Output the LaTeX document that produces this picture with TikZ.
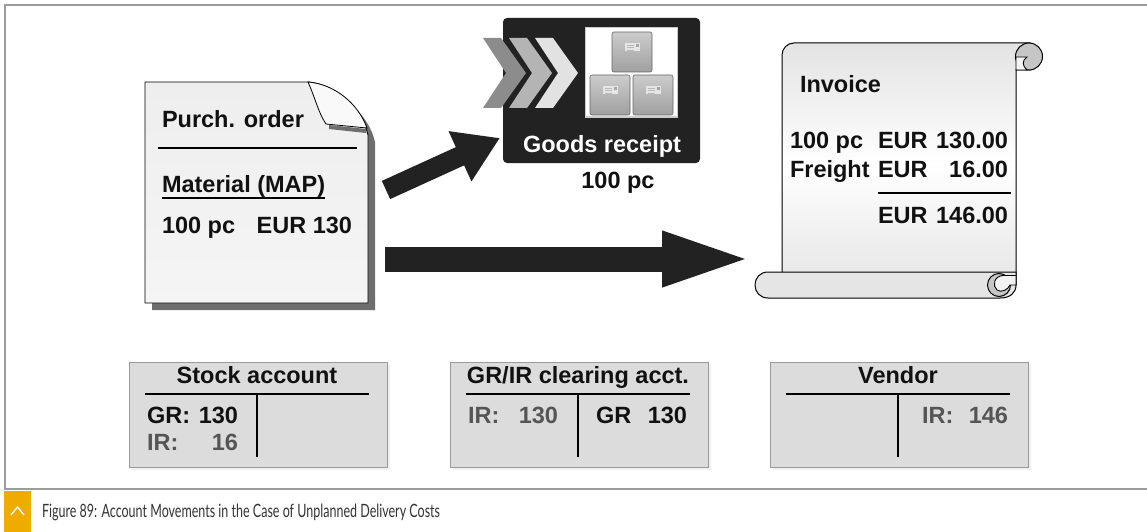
\documentclass[tikz,border=0pt]{standalone}
\usepackage{fontspec}
\setmainfont{Liberation Sans}
\newfontfamily\capfont{Lato}
\usetikzlibrary{arrows.meta,calc}
\definecolor{framegray}{HTML}{9C9C9C}
\definecolor{paper}{HTML}{EEEEEE}
\definecolor{shadowgray}{HTML}{6E6E6E}
\definecolor{inkblack}{HTML}{111111}
\definecolor{arrowblack}{HTML}{222222}
\definecolor{dimtext}{HTML}{555555}
\definecolor{acctfill}{HTML}{DCDCDC}
\definecolor{acctedge}{HTML}{9A9A9A}
\definecolor{captext}{HTML}{333333}
\definecolor{sapgold}{HTML}{F0AB00}
\definecolor{chevA}{HTML}{8C8C8C}
\definecolor{chevB}{HTML}{B4B4B4}
\definecolor{chevC}{HTML}{E2E2E2}
\begin{document}
\begin{tikzpicture}[x=1pt,y=-1pt,
  every node/.style={inner sep=0pt,outer sep=0pt},
  lbl/.style={font=\fontsize{23.5}{27}\selectfont\bfseries,text=inkblack,anchor=base west},
  lblr/.style={lbl,anchor=base east},
  lblc/.style={lbl,anchor=base},
  dim/.style={text=dimtext},
  fatarrow/.style={draw=arrowblack},
  rule/.style={draw=black,line width=2.6pt},
  acct/.style={fill=acctfill,draw=acctedge,line width=0.8pt},
  crate/.style={rounded corners=2pt,top color=gray!40,bottom color=gray!75,draw=gray!80!black,line width=0.6pt},
  chev/.style={draw=none}
]
\useasboundingbox (0,0) rectangle (1147,532);

% outer frame (open on the right)
\draw[framegray,line width=2pt] (1147,5) -- (5,5) -- (5,489) -- (1147,489);

% ---------------- purchase order sheet ----------------
\begin{scope}[shift={(7,7)}]
  \fill[shadowgray] (145,82) -- (308,82) .. controls (335,84) and (362,108) .. (368,135) -- (368,303) -- (145,303) -- cycle;
\end{scope}
\draw[black,line width=0.9pt,top color=paper,bottom color=gray!8]
  (145,82) -- (308,82) .. controls (335,84) and (362,108) .. (368,135) -- (368,303) -- (145,303) -- cycle;
\draw[shadowgray,line width=4pt] (329,127) -- (366,131);
\draw[black,line width=0.8pt,fill=gray!5]
  (308,82) .. controls (316,100) and (318,112) .. (326,124) -- (367,128)
  .. controls (358,103) and (334,84) .. (308,82) -- cycle;
\node[lbl] (po) at (162,128) {Purch. order};
\draw[rule,line width=2.2pt] (158,148) -- (357,148);
\node[lbl] (mat) at (162,192) {Material (MAP)};
\draw[black,line width=1.6pt] (mat.base west) ++(0,6) -- ($(mat.base east)+(0,6)$);
\node[lbl] (poqty) at (162,233) {100 pc};
\node[lblr] (poval) at (352,233) {EUR 130};

% ---------------- goods receipt tile ----------------
\fill[arrowblack,rounded corners=4pt] (503,18) rectangle (700,163);
\fill[chev,fill=chevA] (483,38) -- (501,38) -- (526,73) -- (501,108) -- (483,108) -- (506,73) -- cycle;
\fill[chev,fill=chevB] (509,38) -- (527,38) -- (552,73) -- (527,108) -- (509,108) -- (532,73) -- cycle;
\fill[chev,fill=chevC] (535,38) -- (553,38) -- (578,73) -- (553,108) -- (535,108) -- (558,73) -- cycle;
\draw[fill=white,draw=gray!40,line width=1pt] (585,28) rectangle (677,117);
\foreach \bx/\by in {612/32, 590/75, 633/75}{
  \draw[crate] (\bx,\by) rectangle ++(40,40);
  \fill[gray!20] (\bx+13,\by+11) rectangle ++(15,8);
  \draw[gray!55,line width=0.6pt] (\bx+15,\by+13) -- ++(7,0) (\bx+15,\by+15.5) -- ++(7,0) (\bx+15,\by+18) -- ++(7,0);
  \fill[gray!70] (\bx+23.5,\by+12.5) rectangle ++(3,3);
}
\node[lblc,text=white] (gr) at (602,152) {Goods receipt};
\node[lblc] (grqty) at (618,188) {100 pc};

% ---------------- invoice scroll ----------------
\draw[black,line width=1pt,top color=gray!22,bottom color=gray!20,middle color=white]
  (782,285) -- (782,55) [rounded corners=12pt] -- (782,43) [sharp corners] -- (1030,43)
  -- (1030,70) -- (1016,70) -- (1016,285) -- cycle;
\draw[black,line width=1pt,fill=gray!45] (1029,56.5) circle (13.5);
\draw[black,line width=0.9pt,fill=gray!8] (1016,57) -- (1027,57) .. controls (1022,60) and (1022,66) .. (1027,70) -- (1016,70) -- cycle;
\draw[black,line width=1pt,fill=gray!20] (1016,272) -- (1016,285) .. controls (1016,293) and (1010,298) .. (1000,298)
  -- (768,298) .. controls (760,298) and (755,292) .. (755,285) .. controls (755,278) and (760,272) .. (768,272) -- cycle;
\draw[black,line width=1pt,fill=gray!45] (999,285) circle (11.5);
\draw[black,line width=0.9pt,fill=gray!10] (1003,275.5) .. controls (994,276) and (992,286) .. (997,290)
  .. controls (1001,293) and (1008,290) .. (1010,285) -- (1016,285) -- (1016,275.5) -- cycle;
\node[lbl] (inv) at (800,93) {Invoice};
\node[lbl] (invqty) at (790,148) {100 pc};
\node[lbl] (frt) at (790,177) {Freight};
\node[lbl] (eur1) at (878,148) {EUR};
\node[lblr] (amt1) at (1008,148) {130.00};
\node[lbl] (eur2) at (878,177) {EUR};
\node[lblr] (amt2) at (1008,177) {16.00};
\draw[rule,line width=2.4pt] (878,193) -- (1011,193);
\node[lbl] (eur3) at (878,223) {EUR};
\node[lblr] (amt3) at (1008,223) {146.00};

% ---------------- flow arrows ----------------
\coordinate (poOutA) at (386,190);
\coordinate (grIn) at (500,138);
\coordinate (poOutB) at (385,259);
\coordinate (invIn) at (757,259);
\draw[fatarrow,line width=20pt,-{Triangle[length=44pt,width=52pt]}] (poOutA) -- (grIn);
\draw[fatarrow,line width=25pt,-{Triangle[length=95pt,width=48pt]}] (poOutB) -- (invIn);

% ---------------- T-accounts ----------------
\foreach \lx in {129,450,770}{
  \fill[gray!12] (\lx+3,365) rectangle (\lx+261,470);
  \draw[acct] (\lx,362) rectangle (\lx+258,467);
  \draw[rule] (\lx+16,394) -- (\lx+240,394);
  \draw[rule] (\lx+128,394) -- (\lx+128,457);
}
\node[lblc] (stock) at (257,383) {Stock account};
\node[lbl] (sgr) at (147,423) {GR:};
\node[lblr] (sgrv) at (238,423) {130};
\node[lbl,dim] (sir) at (147,450) {IR:};
\node[lblr,dim] (sirv) at (238,450) {16};

\node[lblc] (grir) at (578,383) {GR/IR clearing acct.};
\node[lbl,dim] (cir) at (468,423) {IR:};
\node[lblr,dim] (cirv) at (558,423) {130};
\node[lbl] (cgr) at (596,423) {GR};
\node[lblr] (cgrv) at (687,423) {130};

\node[lblc] (vend) at (898,383) {Vendor};
\node[lbl,dim] (vir) at (922,423) {IR:};
\node[lblr,dim] (virv) at (1008,423) {146};

% ---------------- caption ----------------
\fill[sapgold] (4,491) rectangle (31,532);
\draw[white,line width=1.3pt,line join=miter] (11,515) -- (17.5,507) -- (24,515);
\node[anchor=base west,text=captext] (cap) at (42,517)
  {\resizebox{398pt}{13.5pt}{\capfont Figure 89: Account Movements in the Case of Unplanned Delivery Costs}};
\end{tikzpicture}
\end{document}
